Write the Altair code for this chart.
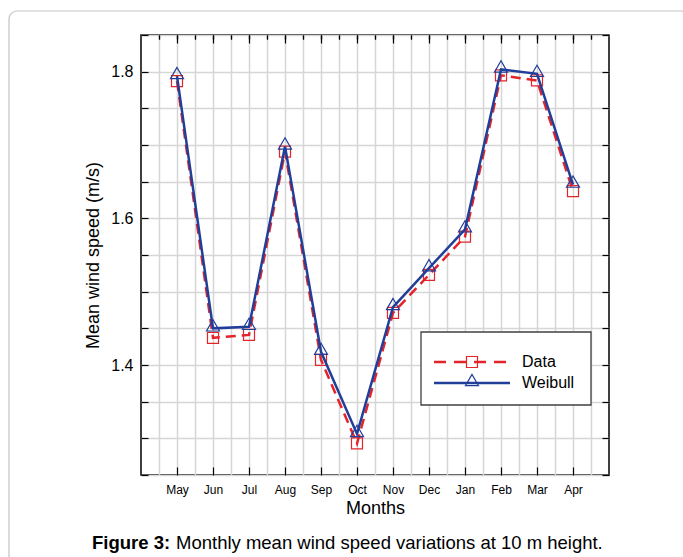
import json
import altair as alt
import pandas as pd

# ---- data ----
months = ["May", "Jun", "Jul", "Aug", "Sep", "Oct", "Nov", "Dec", "Jan", "Feb", "Mar", "Apr"]
data_vals = [1.787, 1.437, 1.441, 1.691, 1.407, 1.293, 1.471, 1.523, 1.575, 1.795, 1.788, 1.637]
weibull_vals = [1.794, 1.450, 1.452, 1.698, 1.418, 1.306, 1.479, 1.532, 1.585, 1.803, 1.797, 1.646]

y_ticks = [1.25, 1.30, 1.35, 1.40, 1.45, 1.50, 1.55, 1.60, 1.65, 1.70, 1.75, 1.80, 1.85]
x_major = [1, 2, 3, 4, 5, 6, 7, 8, 9, 10, 11, 12]
x_minor = [0.5, 1, 1.5, 2, 2.5, 3, 3.5, 4, 4.5, 5, 5.5, 6, 6.5, 7, 7.5, 8, 8.5, 9, 9.5,
           10, 10.5, 11, 11.5, 12, 12.5]
legend_labels = ["Data", "Weibull"]
caption_bold = "Figure 3:"
caption_rest = "Monthly mean wind speed variations at 10 m height."

RED = "#e3242b"
BLUE = "#213f99"
GRID = "#d6d6d6"
FONT = "Liberation Sans"

df = pd.DataFrame({
    "idx": list(range(1, len(months) + 1)),
    "month": months,
    "data": data_vals,
    "weibull": weibull_vals,
})

x_scale = alt.Scale(domain=[0, 13], nice=False, zero=False)
y_scale = alt.Scale(domain=[1.25, 1.85], nice=False, zero=False)
month_expr = json.dumps(months) + "[round(datum.value) - 1]"

common_axis = dict(domain=False, tickColor="black", tickWidth=1.2)

x_bottom_major = alt.Axis(values=x_major, tickSize={"expr": "-8"}, labelExpr=month_expr,
                          labelFontSize=12, labelPadding=17, labelColor="black",
                          title="Months", titleFontSize=18, titleFontWeight="normal",
                          titleColor="black", titlePadding=4, grid=False, **common_axis)
x_bottom_minor = alt.Axis(values=x_minor, tickSize={"expr": "-4"}, labels=False, title=None,
                          grid=True, gridColor=GRID, gridWidth=1.5, **common_axis)
x_top_major = alt.Axis(orient="top", values=x_major, tickSize={"expr": "-8"}, labels=False,
                       title=None, grid=False, **common_axis)
x_top_minor = alt.Axis(orient="top", values=x_minor, tickSize={"expr": "-4"}, labels=False,
                       title=None, grid=False, **common_axis)

y_left = alt.Axis(values=y_ticks, tickSize={"expr": "-7"},
                  labelExpr="round(datum.value*100) % 20 == 0 ? format(datum.value, '.1f') : ''",
                  labelFontSize=16, labelPadding=15, labelColor="black",
                  title="Mean wind speed (m/s)", titleFontSize=18, titleFontWeight="normal",
                  titleColor="black", titlePadding=8,
                  grid=True, gridColor=GRID, gridWidth=1.5, **common_axis)
y_right = alt.Axis(orient="right", values=y_ticks, tickSize={"expr": "-7"}, labels=False,
                   title=None, grid=False, **common_axis)

base = alt.Chart(df)

data_line = base.mark_line(color=RED, strokeWidth=2.5, strokeDash=[10, 6]).encode(
    x=alt.X("idx:Q", scale=x_scale, axis=x_bottom_major),
    y=alt.Y("data:Q", scale=y_scale, axis=y_left),
)
data_pts = base.mark_point(shape="square", size=121, color=RED, filled=False, strokeWidth=1.2,
                           opacity=1).encode(
    x=alt.X("idx:Q", scale=x_scale, axis=x_bottom_minor),
    y=alt.Y("data:Q", scale=y_scale, axis=y_right),
)
weib_line = base.mark_line(color=BLUE, strokeWidth=2.5).encode(
    x=alt.X("idx:Q", scale=x_scale, axis=x_top_major),
    y=alt.Y("weibull:Q", scale=y_scale, axis=None),
)
weib_pts = base.mark_point(shape="triangle-up", size=170, color=BLUE, filled=False,
                           strokeWidth=1.2, opacity=1, yOffset=-3).encode(
    x=alt.X("idx:Q", scale=x_scale, axis=x_top_minor),
    y=alt.Y("weibull:Q", scale=y_scale, axis=None),
)

# ---- decorations: outer frame, legend box, caption ----
one = alt.Chart(pd.DataFrame({"k": [0]}))

frame = one.mark_rect(filled=False, fillOpacity=0, stroke="#c4c4c4", strokeWidth=1.2,
                      cornerRadius=8).encode(
    x=alt.value(-132), x2=alt.value(548), y=alt.value(-24), y2=alt.value(560))

leg_box = one.mark_rect(fill="white", stroke="#404040", strokeWidth=1.3).encode(
    x=alt.value(280), x2=alt.value(450), y=alt.value(297), y2=alt.value(370))
leg_data_line = one.mark_rule(color=RED, strokeWidth=2.5, strokeDash=[12, 8]).encode(
    x=alt.value(293), x2=alt.value(369), y=alt.value(327))
leg_data_pt = one.mark_point(shape="square", size=121, color=RED, filled=False,
                             strokeWidth=1.2, opacity=1).encode(x=alt.value(331), y=alt.value(327))
leg_weib_line = one.mark_rule(color=BLUE, strokeWidth=2.5).encode(
    x=alt.value(293), x2=alt.value(369), y=alt.value(348))
leg_weib_pt = one.mark_point(shape="triangle-up", size=170, color=BLUE, filled=False,
                             strokeWidth=1.2, opacity=1, yOffset=-3).encode(
    x=alt.value(331), y=alt.value(348))
leg_text_data = one.mark_text(text=legend_labels[0], fontSize=16, align="left",
                              baseline="middle", color="black").encode(
    x=alt.value(381), y=alt.value(327))
leg_text_weib = one.mark_text(text=legend_labels[1], fontSize=16, align="left",
                              baseline="middle", color="black").encode(
    x=alt.value(381), y=alt.value(348))

cap_bold = one.mark_text(text=caption_bold, fontSize=18.5, fontWeight="bold", align="left",
                         baseline="alphabetic", color="black").encode(
    x=alt.value(-49), y=alt.value(514))
cap_rest = one.mark_text(text=caption_rest, fontSize=18.5, align="left",
                         baseline="alphabetic", color="black").encode(
    x=alt.value(35), y=alt.value(514))

chart = alt.layer(
    frame, data_line, data_pts, weib_line, weib_pts,
    leg_box, leg_data_line, leg_data_pt, leg_weib_line, leg_weib_pt,
    leg_text_data, leg_text_weib, cap_bold, cap_rest,
).resolve_axis(
    x="independent", y="independent"
).properties(
    width=468, height=440,
    autosize=alt.AutoSizeParams(type="none"),
    padding={"left": 141, "top": 35, "right": 74, "bottom": 82},
    background="white",
).configure(
    font=FONT,
).configure_view(
    stroke="black", strokeWidth=1.5,
)

chart.save("out.html", embed_options={"renderer": "svg", "actions": False})
